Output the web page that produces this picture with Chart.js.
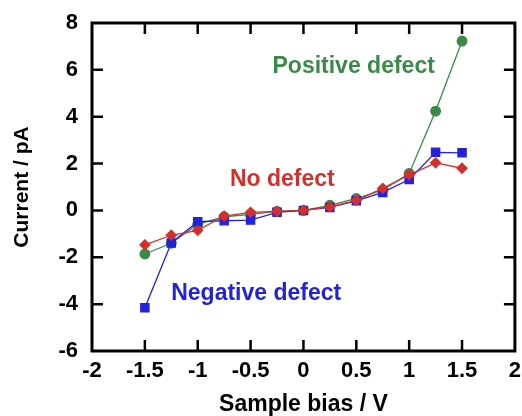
<!DOCTYPE html>
<html>
<head>
<meta charset="utf-8">
<script src="https://cdn.jsdelivr.net/npm/chart.js@4"></script>
<style>
html,body{margin:0;padding:0;background:#fff;}
#wrap{width:522px;height:416px;}
</style>
</head>
<body>
<div id="wrap"><canvas id="c" width="522" height="416"></canvas></div>
<script>
const biasV = [-1.5, -1.25, -1, -0.75, -0.5, -0.25, 0, 0.25, 0.5, 0.75, 1, 1.25, 1.5];
const positiveDefect = [-1.86, -1.40, -0.59, -0.27, -0.17, -0.04, 0.0, 0.22, 0.51, 0.86, 1.58, 4.24, 7.23];
const noDefect = [-1.47, -1.06, -0.85, -0.24, -0.08, -0.04, 0.0, 0.15, 0.43, 0.94, 1.52, 2.03, 1.80];
const negativeDefect = [-4.15, -1.39, -0.48, -0.44, -0.41, -0.08, 0.0, 0.13, 0.41, 0.77, 1.32, 2.48, 2.46];
const xTicks = [-2, -1.5, -1, -0.5, 0, 0.5, 1, 1.5, 2];
const yTicks = [-6, -4, -2, 0, 2, 4, 6, 8];
const seriesLabels = ['Positive defect', 'No defect', 'Negative defect'];
const labelAnchors = [[0.475, 6.14], [-0.2, 1.30], [-0.447, -3.57]];

const GREEN = '#3a8a48', RED = '#d2302e', BLUE = '#2222dd';
const FONT = '"Liberation Sans", Arial, Helvetica, sans-serif';

function pts(ys){ return biasV.map((x,i)=>({x:x,y:ys[i]})); }

const framePlugin = {
  id: 'frame',
  afterDatasetsDraw(chart){
    const ctx = chart.ctx, a = chart.chartArea;
    const xs = chart.scales.x, ys = chart.scales.y;
    ctx.save();
    ctx.strokeStyle = '#000';
    ctx.lineWidth = 2.5;
    const L = 11;
    ctx.beginPath();
    xTicks.forEach(v=>{
      if (v===xs.min || v===xs.max) return;
      const px = xs.getPixelForValue(v);
      ctx.moveTo(px, a.bottom); ctx.lineTo(px, a.bottom - L);
      ctx.moveTo(px, a.top); ctx.lineTo(px, a.top + L);
    });
    yTicks.forEach(v=>{
      if (v===ys.min || v===ys.max) return;
      const py = ys.getPixelForValue(v);
      ctx.moveTo(a.left, py); ctx.lineTo(a.left + L, py);
      ctx.moveTo(a.right, py); ctx.lineTo(a.right - L, py);
    });
    ctx.stroke();
    ctx.lineWidth = 3;
    ctx.strokeRect(a.left, a.top, a.right - a.left, a.bottom - a.top);
    const cols = [GREEN, RED, BLUE];
    ctx.font = 'bold 23px ' + FONT;
    ctx.textAlign = 'center';
    ctx.textBaseline = 'middle';
    seriesLabels.forEach((t,i)=>{
      ctx.fillStyle = cols[i];
      ctx.fillText(t, xs.getPixelForValue(labelAnchors[i][0]), ys.getPixelForValue(labelAnchors[i][1]));
    });
    ctx.restore();
  }
};

new Chart(document.getElementById('c'), {
  type: 'line',
  data: {
    datasets: [
      { label: seriesLabels[0], data: pts(positiveDefect), borderColor: GREEN, backgroundColor: GREEN,
        borderWidth: 1.3, pointStyle: 'circle', pointRadius: 4.8, order: 2 },
      { label: seriesLabels[2], data: pts(negativeDefect), borderColor: BLUE, backgroundColor: BLUE,
        borderWidth: 1.3, pointStyle: 'rect', pointRadius: 5.8, order: 1 },
      { label: seriesLabels[1], data: pts(noDefect), borderColor: RED, backgroundColor: RED,
        borderWidth: 1.3, pointStyle: 'rectRot', pointRadius: 5, order: 0 }
    ]
  },
  options: {
    responsive: false,
    animation: false,
    layout: { padding: { left: 0, right: 5, top: 23, bottom: 0 } },
    plugins: { legend: { display: false }, tooltip: { enabled: false } },
    elements: { point: { borderWidth: 0 }, line: { tension: 0 } },
    scales: {
      x: {
        type: 'linear', min: -2, max: 2,
        grid: { display: false, drawTicks: false }, border: { display: false },
        ticks: { stepSize: 0.5, color: '#000', padding: 7, maxRotation: 0,
                 font: { family: FONT, size: 22, weight: 'bold' },
                 callback: v => String(v) },
        afterBuildTicks: s => { s.ticks = xTicks.map(v => ({ value: v })); },
        title: { display: true, text: 'Sample bias / V', color: '#000',
                 font: { family: FONT, size: 23, weight: 'bold', lineHeight: 1 },
                 padding: { top: 0, bottom: 0 } },
        afterFit: s => { s.height = 65; s.paddingLeft = 0; s.paddingRight = 0; }
      },
      y: {
        type: 'linear', min: -6, max: 8,
        grid: { display: false, drawTicks: false }, border: { display: false },
        ticks: { stepSize: 2, color: '#000', padding: 14,
                 font: { family: FONT, size: 22, weight: 'bold' } },
        afterBuildTicks: s => { s.ticks = yTicks.map(v => ({ value: v })); },
        title: { display: true, text: 'Current / pA', color: '#000',
                 font: { family: FONT, size: 21, weight: 'bold', lineHeight: 1 },
                 padding: { top: 12, bottom: 0 } },
        afterFit: s => { s.width = 92; s.paddingTop = 0; s.paddingBottom = 0; }
      }
    }
  },
  plugins: [framePlugin]
});
</script>
</body>
</html>
